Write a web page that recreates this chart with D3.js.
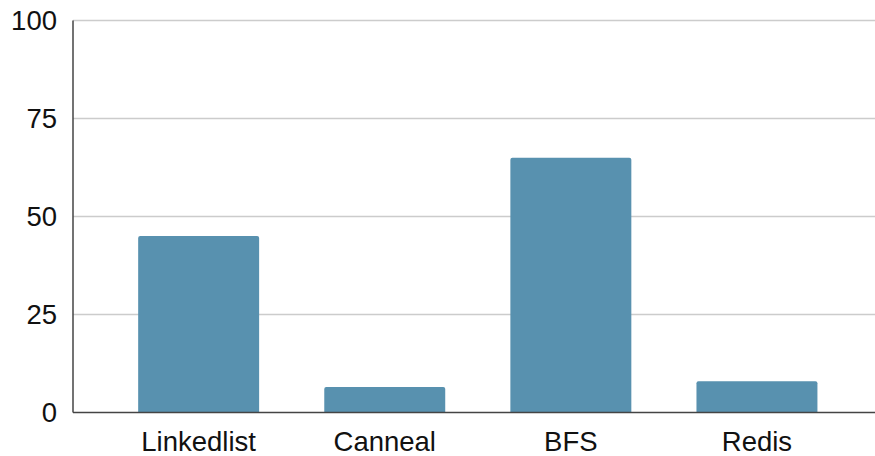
<!DOCTYPE html>
<html>
<head>
<meta charset="utf-8">
<script src="https://cdn.jsdelivr.net/npm/d3@7"></script>
<style>
  html, body { margin: 0; padding: 0; background: #fff; }
  svg { display: block; font-family: "Liberation Sans", Arial, sans-serif; }
</style>
</head>
<body>
<svg id="chart" width="875" height="456"></svg>
<script>
// Benchmarks and their values
const categories = ["Linkedlist", "Canneal", "BFS", "Redis"];
const values = [45, 6.5, 65, 8];
const yTicks = [0, 25, 50, 75, 100];

const width = 875, height = 456;
const plot = { left: 73, right: 875, top: 20.5, bottom: 412.5 };

const svg = d3.select("#chart");

const x = d3.scaleBand()
  .domain(categories)
  .range([105.6, 850])
  .paddingInner(0.35)
  .paddingOuter(0.175);

const y = d3.scaleLinear()
  .domain([0, 100])
  .range([plot.bottom, plot.top]);

// Horizontal gridlines
svg.append("g")
  .selectAll("line")
  .data(yTicks.filter(d => d > 0))
  .join("line")
  .attr("x1", plot.left)
  .attr("x2", plot.right)
  .attr("y1", d => y(d))
  .attr("y2", d => y(d))
  .attr("stroke", "#cccccc")
  .attr("stroke-width", 1.3);

// Bars with slightly rounded top corners
svg.append("g")
  .selectAll("path")
  .data(categories.map((c, i) => ({ c, v: values[i] })))
  .join("path")
  .attr("fill", "#5891af")
  .attr("d", d => {
    const x0 = x(d.c), w = x.bandwidth();
    const y0 = y(d.v), y1 = y(0), r = 2;
    return `M${x0},${y1}V${y0 + r}Q${x0},${y0} ${x0 + r},${y0}H${x0 + w - r}Q${x0 + w},${y0} ${x0 + w},${y0 + r}V${y1}Z`;
  });

// Y axis labels
const yAxis = d3.axisLeft(y).tickValues(yTicks).tickSize(0).tickPadding(16);
const gy = svg.append("g").attr("transform", `translate(${plot.left},0)`).call(yAxis);
gy.select(".domain").remove();
gy.selectAll("text")
  .attr("font-size", 27.5)
  .attr("fill", "#111")
  .attr("font-family", "'Liberation Sans', Arial, sans-serif");

// X axis labels
const xAxis = d3.axisBottom(x).tickSize(0).tickPadding(19);
const gx = svg.append("g").attr("transform", `translate(0,${plot.bottom})`).call(xAxis);
gx.select(".domain").remove();
gx.selectAll("text")
  .attr("font-size", 27.5)
  .attr("fill", "#111")
  .attr("font-family", "'Liberation Sans', Arial, sans-serif");

// Axis lines
svg.append("line")
  .attr("x1", plot.left).attr("x2", plot.right)
  .attr("y1", plot.bottom).attr("y2", plot.bottom)
  .attr("stroke", "#444").attr("stroke-width", 1.5);
svg.append("line")
  .attr("x1", plot.left).attr("x2", plot.left)
  .attr("y1", plot.top).attr("y2", plot.bottom)
  .attr("stroke", "#444").attr("stroke-width", 1.5);
</script>
</body>
</html>
